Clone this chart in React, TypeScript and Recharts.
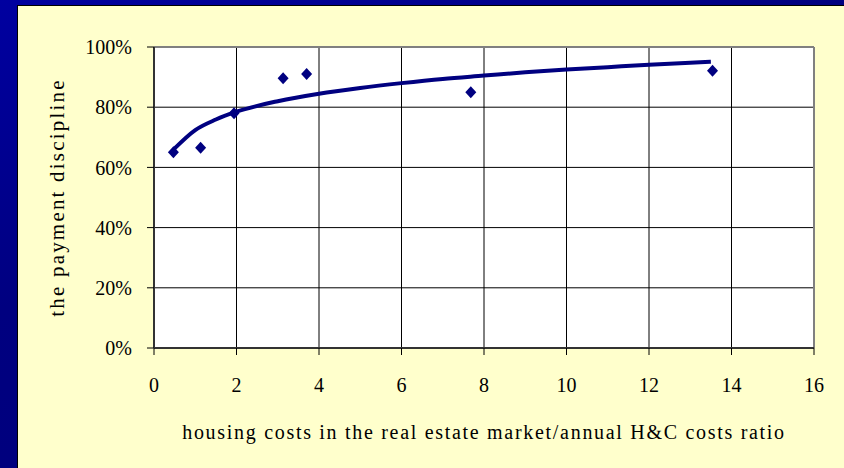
import React from 'react'
import {
  CartesianGrid,
  ComposedChart,
  Label,
  Line,
  ReferenceLine,
  Scatter,
  XAxis,
  YAxis,
} from 'recharts'

// observed ratios and payment discipline
const pointX = [0.47, 1.13, 1.94, 3.13, 3.7, 7.68, 13.54]
const pointY = [0.65, 0.665, 0.78, 0.896, 0.91, 0.85, 0.921]

// trend line
const trendX = [0.5, 1, 1.5, 2, 3, 4, 5, 6, 7, 8, 9, 10, 11, 12, 13, 13.5]
const trendY = [
  0.663, 0.724, 0.759, 0.785, 0.82, 0.845, 0.864, 0.88, 0.894, 0.905, 0.916,
  0.925, 0.933, 0.941, 0.948, 0.951,
]

const xTicks = [0, 2, 4, 6, 8, 10, 12, 14, 16]
const yTicks = [0, 0.2, 0.4, 0.6, 0.8, 1]

const points = pointX.map((x, i) => ({ x, y: pointY[i] }))
const trend = trendX.map((x, i) => ({ x, y: trendY[i] }))

const NAVY = '#000080'
const FONT = 'Liberation Serif'

const Diamond = (props: any) => {
  const { cx, cy } = props
  if (cx == null || cy == null) return null
  return (
    <polygon
      points={`${cx},${cy - 6} ${cx + 5.5},${cy} ${cx},${cy + 6} ${cx - 5.5},${cy}`}
      fill={NAVY}
    />
  )
}

export default function App(): React.ReactElement {
  const tickStyle = { fill: '#000', fontSize: 20, fontFamily: FONT }

  return (
    <div
      style={{
        position: 'absolute',
        left: 0,
        top: 0,
        width: 844,
        height: 468,
        overflow: 'hidden',
        background: 'linear-gradient(160deg, #0000a0 0%, #000080 40%, #00007a 100%)',
      }}
    >
      <div
        style={{
          position: 'absolute',
          left: 17,
          top: 5,
          width: 827,
          height: 463,
          background: '#ffffcc',
          borderLeft: '1px solid #000',
          borderTop: '1px solid #000',
          boxSizing: 'border-box',
        }}
      />
      <div style={{ position: 'absolute', left: 18, top: 6 }}>
        <ComposedChart
          width={826}
          height={462}
          margin={{ top: 41, right: 30, left: 0, bottom: 0 }}
        >
          <CartesianGrid stroke="#000" fill="#fff" />
          <XAxis
            dataKey="x"
            type="number"
            domain={[0, 16]}
            ticks={xTicks}
            height={120}
            tick={tickStyle}
            tickSize={7}
            tickMargin={23}
            axisLine={{ stroke: '#333', strokeWidth: 2 }}
            tickLine={{ stroke: '#000' }}
          >
            <Label
              content={({ viewBox }: any) => (
                <text
                  x={viewBox.x + viewBox.width / 2}
                  y={viewBox.y + 84}
                  textAnchor="middle"
                  dominantBaseline="central"
                  fontSize={20}
                  fontFamily={FONT}
                  letterSpacing={1.7}
                  fill="#000"
                >
                  housing costs in the real estate market/annual H&amp;C costs ratio
                </text>
              )}
            />
          </XAxis>
          <YAxis
            type="number"
            domain={[0, 1]}
            ticks={yTicks}
            width={136}
            tick={tickStyle}
            tickSize={7}
            tickMargin={15}
            tickFormatter={(v: number) => `${Math.round(v * 100)}%`}
            axisLine={{ stroke: '#333', strokeWidth: 2 }}
            tickLine={{ stroke: '#000' }}
          >
            <Label
              content={({ viewBox }: any) => {
                const cx = viewBox.x + 39
                const cy = viewBox.y + viewBox.height / 2
                return (
                  <text
                    x={cx}
                    y={cy}
                    transform={`rotate(-90 ${cx} ${cy})`}
                    textAnchor="middle"
                    dominantBaseline="central"
                    fontSize={21}
                    fontFamily={FONT}
                    letterSpacing={2.2}
                    fill="#000"
                  >
                    the payment discipline
                  </text>
                )
              }}
            />
          </YAxis>
          <ReferenceLine y={1} stroke="#808080" strokeWidth={2} />
          <ReferenceLine x={16} stroke="#808080" strokeWidth={2} />
          <Line
            data={trend}
            dataKey="y"
            type="monotone"
            stroke={NAVY}
            strokeWidth={4}
            dot={false}
            isAnimationActive={false}
          />
          <Scatter
            data={points}
            dataKey="y"
            shape={Diamond}
            isAnimationActive={false}
          />
        </ComposedChart>
      </div>
    </div>
  )
}
